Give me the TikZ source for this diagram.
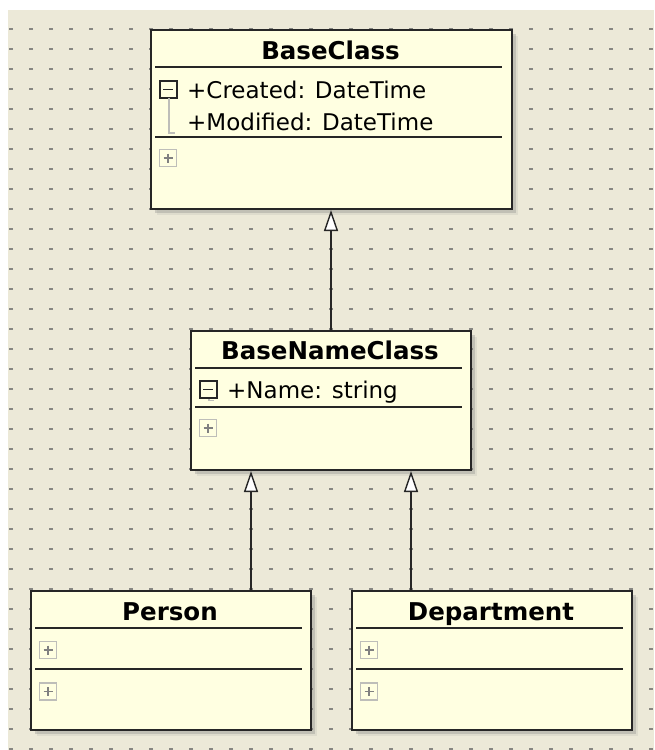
\documentclass[tikz,border=0pt]{standalone}
\usepackage{fontspec}
\setmainfont{DejaVu Sans}
\usetikzlibrary{arrows.meta,shadows}
\definecolor{canvas}{RGB}{236,233,216}
\definecolor{notepaper}{RGB}{255,255,225}
\definecolor{griddot}{RGB}{135,135,130}
\definecolor{treegray}{RGB}{190,190,185}

\tikzset{
  classbox/.style={draw=black!85,line width=2pt,fill=notepaper,anchor=north west,inner sep=0pt,
    drop shadow={shadow xshift=6pt,shadow yshift=-6pt,opacity=.12},
    drop shadow={shadow xshift=3.5pt,shadow yshift=-3.5pt,opacity=.3}},
  classtitle/.style={anchor=base,inner sep=0pt,font=\bfseries\fontsize{24.5}{29}\selectfont},
  member/.style={anchor=base west,inner sep=0pt,font=\fontsize{23}{28}\selectfont},
  rule/.style={draw=black!85,line width=2pt},
  tree/.style={draw=treegray,line width=1.2pt},
  inherits/.style={draw=black!85,line width=1.6pt,-{Triangle[length=21pt,width=14pt,fill=white,line width=1.4pt]}},
  plusbox/.pic={
    \draw[treegray,line width=1.4pt] (-8.5,-8.5) rectangle (8.5,8.5);
    \draw[gray,line width=1.1pt] (-4.5,0) -- (4.5,0) (0,-4.5) -- (0,4.5);
  },
  minusbox/.pic={
    \draw[black!85,line width=2pt] (-8.5,-8.5) rectangle (8.5,8.5);
    \draw[black!85,line width=1.8pt] (-5,0) -- (5,0);
  }
}

\begin{document}
\begin{tikzpicture}[x=1pt,y=-1pt]
  \useasboundingbox (0,0) rectangle (654,750);
  % drawing area with its snap grid
  \fill[white] (0,0) rectangle (654,750);
  \fill[canvas] (8,10) rectangle (654,750);
  \foreach \y in {29,49,...,749}
    \draw[griddot,line width=2pt,dash pattern=on 3.5pt off 16.5pt] (9.25,\y) -- (654,\y);

  % BaseClass
  \begin{scope}[shift={(150,29)}]
    \node[classbox,minimum width=361pt,minimum height=179pt] (base) at (0,0) {};
    \node[classtitle] (baseT) at (180.5,30) {BaseClass};
    \draw[rule] (5,38) -- (352,38);
    \pic at (18,60.5) {minusbox};
    \draw[tree] (19,69) -- (19,104) -- (25,104);
    \node[member] (baseA) at (37,69) {+Created: DateTime};
    \node[member] (baseB) at (37,101) {+Modified: DateTime};
    \draw[rule] (5,108) -- (352,108);
    \pic at (18,129) {plusbox};
  \end{scope}

  % BaseNameClass
  \begin{scope}[shift={(190,330)}]
    \node[classbox,minimum width=280pt,minimum height=139pt] (basename) at (0,0) {};
    \node[classtitle] (basenameT) at (140,29) {BaseNameClass};
    \draw[rule] (5,38) -- (272,38);
    \pic at (18,59.5) {minusbox};
    \draw[tree] (19,69) -- (19,70.5) -- (24,70.5);
    \node[member] (basenameA) at (37,68) {+Name: string};
    \draw[rule] (5,77) -- (272,77);
    \pic at (18,98) {plusbox};
  \end{scope}

  % Person and Department
  \foreach \cls/\lab/\x in {person/Person/30,dept/Department/351}{
    \begin{scope}[shift={(\x,590)}]
      \node[classbox,minimum width=280pt,minimum height=139pt] (\cls) at (0,0) {};
      \node[classtitle] (\cls T) at (140,30) {\lab};
      \draw[rule] (5,38) -- (272,38);
      \pic at (18,60) {plusbox};
      \draw[rule] (5,79) -- (272,79);
      \pic at (18,101.5) {plusbox};
    \end{scope}
  }

  % generalisations
  \draw[inherits] (basename.north) -- (basename.north |- base.south);
  \coordinate (personjoin) at ([xshift=80pt]person.north);
  \coordinate (deptjoin) at ([xshift=-81pt]dept.north);
  \draw[inherits] (personjoin) -- (personjoin |- basename.south);
  \draw[inherits] (deptjoin) -- (deptjoin |- basename.south);
\end{tikzpicture}
\end{document}
